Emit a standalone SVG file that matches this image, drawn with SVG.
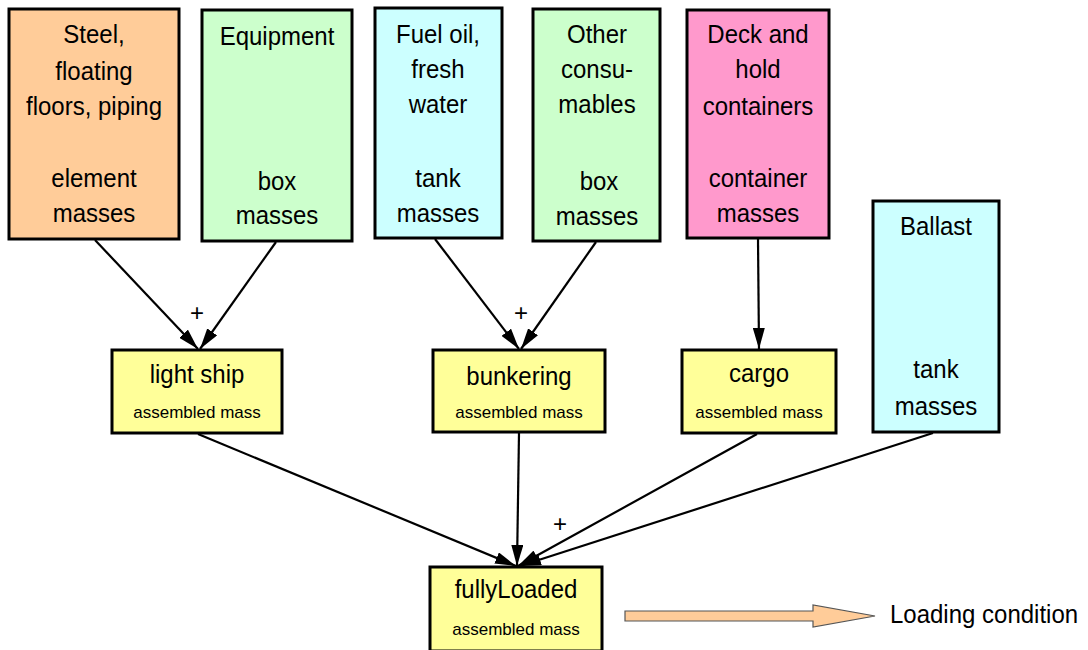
<svg xmlns="http://www.w3.org/2000/svg" width="1088" height="650" viewBox="0 0 1088 650">
<defs>
<style>
.box{stroke:#000;stroke-width:3}
.or{fill:#FFCC99}.gr{fill:#CCFFCC}.cy{fill:#CCFFFF}.pk{fill:#FF99CC}.ye{fill:#FFFF99}
text{font-family:"Liberation Sans",Arial,sans-serif;fill:#000;text-anchor:middle}
.big{font-size:24px}
.sm{font-size:17px}
.plus{font-size:24px}
.conn line{stroke:#000;stroke-width:2.2;marker-end:url(#ah)}
</style>
<marker id="ah" markerUnits="userSpaceOnUse" markerWidth="21" markerHeight="12" refX="21" refY="6" orient="auto">
<path d="M0,0 L21,6 L0,12 z" fill="#000"/>
</marker>
</defs>
<rect width="1088" height="650" fill="#fff"/>
<g id="connectors" class="conn">
<line x1="95" y1="240" x2="198" y2="349"/>
<line x1="276" y1="242" x2="200" y2="349"/>
<line x1="435" y1="239" x2="519" y2="349"/>
<line x1="596" y1="242" x2="521" y2="349"/>
<line x1="758" y1="239" x2="759" y2="349"/>
<line x1="198" y1="434" x2="516" y2="566"/>
<line x1="519" y1="433" x2="517" y2="566"/>
<line x1="757" y1="434" x2="518" y2="566"/>
<line x1="933" y1="433" x2="520" y2="566"/>
</g>
<g id="plus-labels">
<text class="plus" x="197" y="321">+</text>
<text class="plus" x="521" y="321">+</text>
<text class="plus" x="560" y="532">+</text>
</g>
<g id="steel">
<rect class="box or" x="9" y="9" width="170" height="230"/>
<text class="big" transform="translate(94,43) scale(1,1.1)">Steel,</text>
<text class="big" transform="translate(94,80) scale(1,1.1)">floating</text>
<text class="big" transform="translate(94,115) scale(1,1.1)">floors, piping</text>
<text class="big" transform="translate(94,187) scale(1,1.1)">element</text>
<text class="big" transform="translate(94,222) scale(1,1.1)">masses</text>
</g>
<g id="equipment">
<rect class="box gr" x="202" y="10" width="150" height="231"/>
<text class="big" transform="translate(277,45) scale(1,1.1)">Equipment</text>
<text class="big" transform="translate(277,190) scale(1,1.1)">box</text>
<text class="big" transform="translate(277,224) scale(1,1.1)">masses</text>
</g>
<g id="fueloil">
<rect class="box cy" x="375" y="8" width="127" height="230"/>
<text class="big" transform="translate(438,43) scale(1,1.1)">Fuel oil,</text>
<text class="big" transform="translate(438,78) scale(1,1.1)">fresh</text>
<text class="big" transform="translate(438,113) scale(1,1.1)">water</text>
<text class="big" transform="translate(438,187) scale(1,1.1)">tank</text>
<text class="big" transform="translate(438,222) scale(1,1.1)">masses</text>
</g>
<g id="consumables">
<rect class="box gr" x="533" y="9" width="127" height="232"/>
<text class="big" transform="translate(597,43) scale(1,1.1)">Other</text>
<text class="big" transform="translate(597,78) scale(1,1.1)">consu-</text>
<text class="big" transform="translate(597,113) scale(1,1.1)">mables</text>
<text class="big" transform="translate(599,190) scale(1,1.1)">box</text>
<text class="big" transform="translate(597,225) scale(1,1.1)">masses</text>
</g>
<g id="containers">
<rect class="box pk" x="687" y="10" width="142" height="228"/>
<text class="big" transform="translate(758,43) scale(1,1.1)">Deck and</text>
<text class="big" transform="translate(758,78) scale(1,1.1)">hold</text>
<text class="big" transform="translate(758,115) scale(1,1.1)">containers</text>
<text class="big" transform="translate(758,187) scale(1,1.1)">container</text>
<text class="big" transform="translate(758,222) scale(1,1.1)">masses</text>
</g>
<g id="ballast">
<rect class="box cy" x="873" y="201" width="126" height="231"/>
<text class="big" transform="translate(936,235) scale(1,1.1)">Ballast</text>
<text class="big" transform="translate(936,378) scale(1,1.1)">tank</text>
<text class="big" transform="translate(936,415) scale(1,1.1)">masses</text>
</g>
<g id="lightship">
<rect class="box ye" x="112" y="350" width="170" height="83"/>
<text class="big" transform="translate(197,383) scale(1,1.1)">light ship</text>
<text class="sm" x="197" y="418">assembled mass</text>
</g>
<g id="bunkering">
<rect class="box ye" x="433" y="350" width="172" height="82"/>
<text class="big" transform="translate(519,385) scale(1,1.1)">bunkering</text>
<text class="sm" x="519" y="418">assembled mass</text>
</g>
<g id="cargo">
<rect class="box ye" x="682" y="350" width="154" height="83"/>
<text class="big" transform="translate(759,382) scale(1,1.1)">cargo</text>
<text class="sm" x="759" y="418">assembled mass</text>
</g>
<g id="fullyloaded">
<rect class="box ye" x="430" y="567" width="172" height="84"/>
<text class="big" transform="translate(516,598) scale(1,1.1)">fullyLoaded</text>
<text class="sm" x="516" y="635">assembled mass</text>
</g>
<g id="loading-condition">
<polygon points="625,611 813,611 813,605 875,616 813,627 813,621 625,621" fill="#FFCC99" stroke="#555" stroke-width="1.2"/>
<text class="big" transform="translate(890,623) scale(1,1.1)" style="text-anchor:start">Loading condition</text>
</g>
</svg>
